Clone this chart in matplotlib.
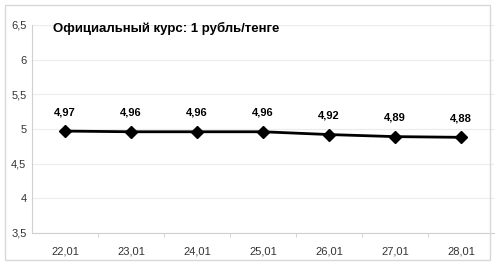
import matplotlib.pyplot as plt
from matplotlib.patches import Rectangle

dates = ['22,01', '23,01', '24,01', '25,01', '26,01', '27,01', '28,01']
rates = [4.97, 4.96, 4.96, 4.96, 4.92, 4.89, 4.88]
yticks = [3.5, 4, 4.5, 5, 5.5, 6, 6.5]
title = 'Официальный курс: 1 рубль/тенге'

fig = plt.figure(figsize=(5, 2.66), dpi=100)
fig.patches.append(Rectangle((5/500, 1-260/266), 485/500, 255/266, transform=fig.transFigure,
                             fill=False, edgecolor='#d8d8d8', linewidth=1))
ax = fig.add_axes([0.064, 1-233/266, 0.924, 208/266])

x = list(range(len(dates)))
ax.plot(x, rates, color='black', linewidth=2, marker='D', markersize=6.5, zorder=3)
for xi, v in zip(x, rates):
    ax.annotate(f'{v:.2f}'.replace('.', ','), (xi, v), xytext=(0, 10), textcoords='offset points',
                ha='center', va='bottom', fontsize=8, fontweight='bold', family='Liberation Sans')

ax.set_xlim(-0.5, len(dates) - 0.5)
ax.set_ylim(3.5, 6.5)
ax.set_yticks(yticks)
ax.set_yticklabels([f'{t:g}'.replace('.', ',') for t in yticks], family='Liberation Sans', fontsize=8, color='#333333')
ax.set_xticks(x)
ax.set_xticklabels(dates, family='Liberation Sans', fontsize=8, color='#333333')
ax.set_xticks([i + 0.5 for i in x[:-1]], minor=True)
ax.tick_params(axis='x', which='major', length=0, pad=10)
ax.tick_params(axis='x', which='minor', length=3, color='#cccccc')
ax.tick_params(axis='y', length=0, pad=4)
ax.grid(axis='y', color='#ececec', linewidth=0.8)
ax.set_axisbelow(True)
for s in ['top', 'right']:
    ax.spines[s].set_visible(False)
for s in ['left', 'bottom']:
    ax.spines[s].set_color('#d0d0d0')

ax.text(0.045, 0.985, title, transform=ax.transAxes, ha='left', va='center',
        fontsize=9.5, fontweight='bold', family='Liberation Sans')

fig.savefig('out.png', dpi=100)
